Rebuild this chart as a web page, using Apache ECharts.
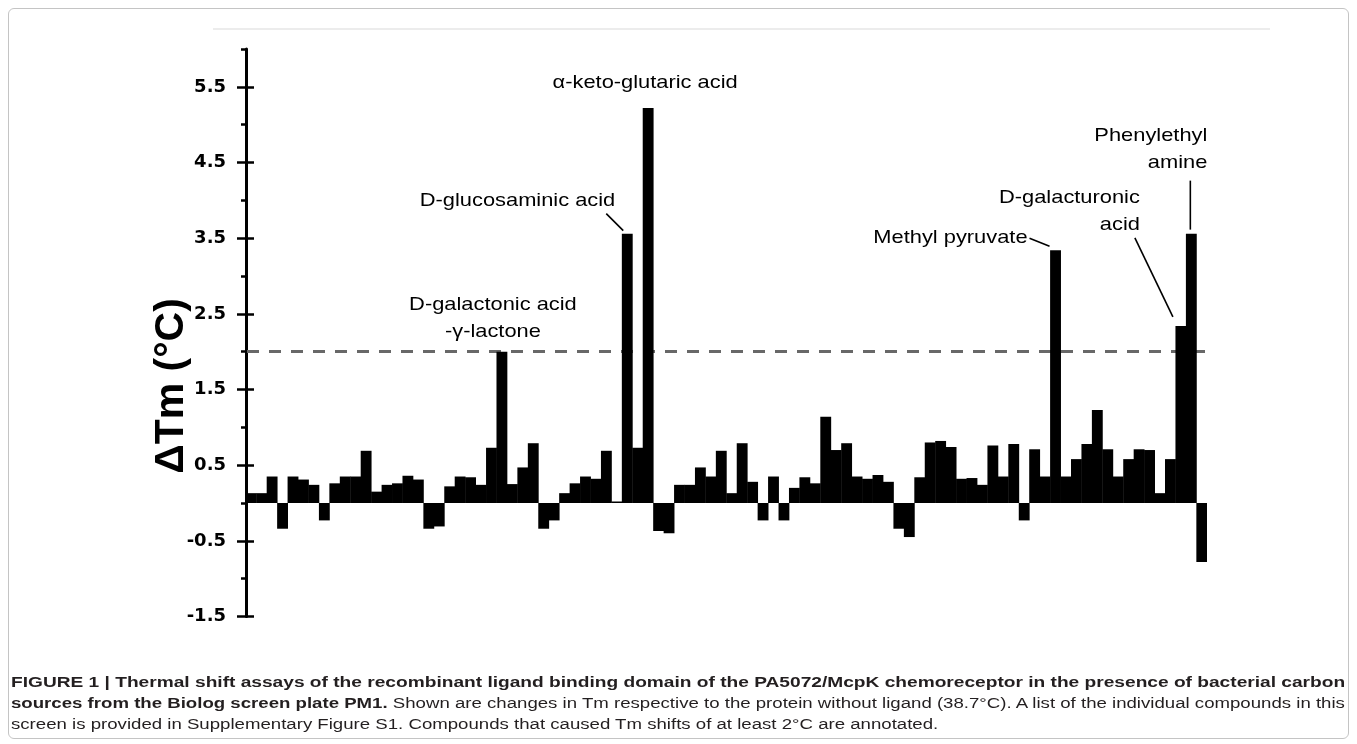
<!DOCTYPE html>
<html><head><meta charset="utf-8">
<script src="https://cdn.jsdelivr.net/npm/echarts@6/dist/echarts.min.js"></script>
<style>
html,body{margin:0;padding:0;background:#fff;width:1357px;height:744px;overflow:hidden;}
#chart{position:absolute;left:0;top:0;width:1357px;height:744px;}
#frame{position:absolute;left:8px;top:8px;width:1341px;height:731px;border:1px solid #c4c4c4;border-radius:6px;box-sizing:border-box;pointer-events:none;}
#caption{position:absolute;left:11px;top:672px;font-family:"Liberation Sans",Arial,sans-serif;font-size:14px;line-height:21px;color:#231f20;}
#caption .ln{white-space:nowrap;display:block;transform-origin:0 50%;width:max-content;}
</style></head><body>
<div id="chart"></div><div id="frame"></div>
<div id="caption">
<div class="ln" id="l1"><b>FIGURE 1 | Thermal shift assays of the recombinant ligand binding domain of the PA5072/McpK chemoreceptor in the presence of bacterial carbon</b></div>
<div class="ln" id="l2"><b>sources from the Biolog screen plate PM1.</b> Shown are changes in Tm respective to the protein without ligand (38.7°C). A list of the individual compounds in this</div>
<div class="ln" id="l3">screen is provided in Supplementary Figure S1. Compounds that caused Tm shifts of at least 2°C are annotated.</div>
</div>
<script>
// ---- data ----
const deltaTm = [
  0.13, 0.13, 0.35, -0.34, 0.35, 0.31, 0.24, -0.23, 0.26, 0.35,
  0.35, 0.69, 0.15, 0.24, 0.26, 0.36, 0.31, -0.34, -0.31, 0.22,
  0.35, 0.34, 0.24, 0.73, 2.00, 0.25, 0.47, 0.79, -0.34, -0.23,
  0.13, 0.26, 0.35, 0.32, 0.69, 0.02, 3.56, 0.73, 5.22, -0.37,
  -0.40, 0.24, 0.24, 0.47, 0.35, 0.69, 0.13, 0.79, 0.28, -0.23,
  0.35, -0.23, 0.20, 0.34, 0.26, 1.14, 0.70, 0.79, 0.35, 0.32,
  0.37, 0.28, -0.34, -0.45, 0.34, 0.80, 0.82, 0.74, 0.32, 0.33,
  0.24, 0.76, 0.35, 0.78, -0.23, 0.71, 0.35, 3.34, 0.35, 0.58,
  0.78, 1.23, 0.71, 0.35, 0.58, 0.71, 0.70, 0.13, 0.58, 2.34,
  3.56, -0.78
];
const categories = deltaTm.map((_, i) => String(i + 1));
const majorTicks = [-1.5, -0.5, 0.5, 1.5, 2.5, 3.5, 4.5, 5.5];
const minorTicks = [-1, 0, 1, 2, 3, 4, 5, 6];
const yMin = -1.5, yMax = 6.0;
const threshold = 2;
const annotations = [
  {idx: 24, text: 'D-galactonic acid\n-γ-lactone'},
  {idx: 36, text: 'D-glucosaminic acid'},
  {idx: 38, text: 'α-keto-glutaric acid'},
  {idx: 77, text: 'Methyl pyruvate'},
  {idx: 89, text: 'D-galacturonic\nacid'},
  {idx: 90, text: 'Phenylethyl\namine'}
];
// ---- annotation layout (styles, offsets from bar top) ----
const annoLayout = [
  {dx: -9, dy: -33.5, align: 'center'},
  {dx: -12, dy: -33, align: 'right', line: [-21, -20, -4, -3]},
  {dx: -3, dy: -25, align: 'center'},
  {dx: -28, dy: -13, align: 'right', line: [-26, -12, -6, -4]},
  {dx: -41, dy: -115, align: 'right', line: [-46, -88, -8, -9]},
  {dx: 16, dy: -84, align: 'right', line: [-1, -53, -1, -4]}
];

const chart = echarts.init(document.getElementById('chart'), null, {renderer: 'canvas'});
const tickStyle = {color: '#000', width: 2.5};
chart.setOption({
  animation: false,
  grid: {left: 246, right: 150, top: 49, bottom: 127.5},
  xAxis: {type: 'category', data: categories, show: false, boundaryGap: true},
  yAxis: [
    {type: 'value', min: yMin, max: yMax, position: 'left',
     axisLine: {show: true, onZero: false, lineStyle: {color: '#000', width: 3}},
     axisTick: {show: true, length: 9, lineStyle: tickStyle, customValues: majorTicks},
     axisLabel: {show: true, customValues: majorTicks, formatter: v => Number(v).toFixed(1), margin: 20,
                 fontFamily: 'DejaVu Sans', fontWeight: 'bold', fontSize: 18, color: '#000'},
     splitLine: {show: false}},
    {type: 'value', min: yMin, max: yMax, position: 'left',
     axisLine: {show: false}, axisLabel: {show: false}, splitLine: {show: false},
     axisTick: {show: true, inside: true, length: 8, lineStyle: tickStyle, customValues: majorTicks}},
    {type: 'value', min: yMin, max: yMax, position: 'left',
     axisLine: {show: false}, axisLabel: {show: false}, splitLine: {show: false},
     axisTick: {show: true, length: 5, lineStyle: tickStyle, customValues: minorTicks}}
  ],
  series: [
    {type: 'line', data: [], yAxisIndex: 0, z: 1, silent: true, symbol: 'none',
     markLine: {silent: true, symbol: 'none', z: 1, label: {show: false},
       lineStyle: {color: '#686868', width: 3, type: [12, 10], dashOffset: 21},
       data: [{yAxis: threshold}]}},
    {type: 'bar', data: deltaTm, yAxisIndex: 0, z: 3, barWidth: '104%', silent: true,
     itemStyle: {color: '#000', borderWidth: 0}}
  ]
});

const graphics = [
  {type: 'line', shape: {x1: 213, y1: 29, x2: 1270, y2: 29}, style: {stroke: '#e6e6e6', lineWidth: 1.5}, silent: true},
  {type: 'text', x: 172, y: 386, rotation: Math.PI / 2,
   style: {text: 'ΔTm (°C)', align: 'center', verticalAlign: 'middle', font: 'bold 41px "Liberation Sans", Arial, sans-serif', fill: '#000'}}
];
annotations.forEach((a, i) => {
  const L = annoLayout[i];
  const p = chart.convertToPixel({seriesIndex: 1}, [categories[a.idx], deltaTm[a.idx]]);
  graphics.push({type: 'text', x: p[0] + L.dx, y: p[1] + L.dy, scaleX: 1.15, silent: true,
    style: {text: a.text, align: L.align, verticalAlign: 'middle', lineHeight: 27,
            font: '19px "Liberation Sans", Arial, sans-serif', fill: '#000'}});
  if (L.line) {
    graphics.push({type: 'line', silent: true,
      shape: {x1: p[0] + L.line[0], y1: p[1] + L.line[1], x2: p[0] + L.line[2], y2: p[1] + L.line[3]},
      style: {stroke: '#000', lineWidth: 1.6}});
  }
});
chart.setOption({graphic: graphics});

// fit caption lines to the frame width
const target = 1334;
const l1 = document.getElementById('l1'), l2 = document.getElementById('l2'), l3 = document.getElementById('l3');
const s1 = target / l1.offsetWidth, s2 = target / l2.offsetWidth;
l1.style.transform = 'scaleX(' + s1 + ')';
l2.style.transform = 'scaleX(' + s2 + ')';
l3.style.transform = 'scaleX(' + s2 + ')';
</script>
</body></html>
